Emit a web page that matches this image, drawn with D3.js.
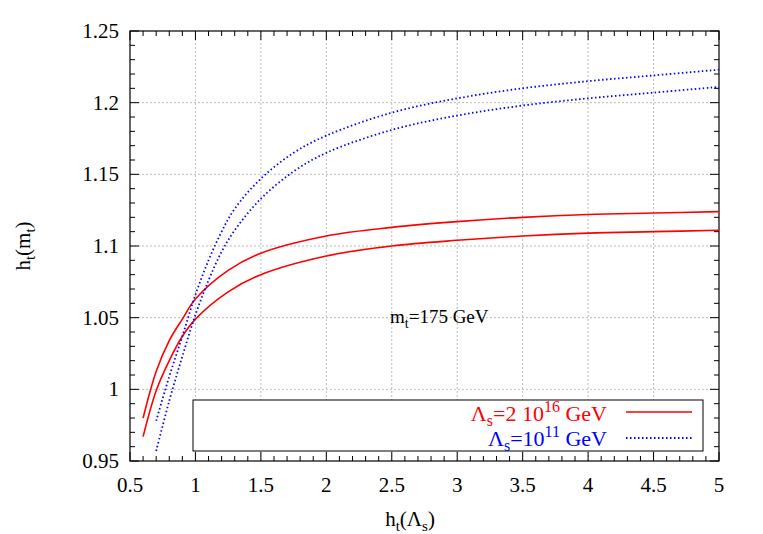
<!DOCTYPE html><html><head><script src="https://cdn.jsdelivr.net/npm/d3@7"></script>
<style>body{margin:0;background:#fff}text{font-family:"Liberation Serif","Times New Roman",serif}</style></head><body>
<script>
const xTicks=[0.5,1,1.5,2,2.5,3,3.5,4,4.5,5];
const yTicks=[0.95,1,1.05,1.1,1.15,1.2,1.25];
const redX=[0.6,0.7,0.8,0.9,1.0,1.25,1.5,2,2.5,3,3.5,4,4.5,5];
const redUpper=[0.980,1.0125,1.034,1.049,1.063,1.083,1.095,1.107,1.113,1.117,1.120,1.122,1.123,1.124];
const redLower=[0.967,0.999,1.020,1.037,1.049,1.068,1.080,1.093,1.100,1.104,1.107,1.109,1.110,1.111];
const blueX=[0.7,0.8,0.9,1.0,1.1,1.2,1.3,1.5,1.75,2,2.5,3,3.5,4,4.5,5];
const blueUpper=[0.978,1.009,1.037,1.066,1.090,1.110,1.126,1.147,1.165,1.177,1.193,1.203,1.210,1.215,1.219,1.223];
const blueLower=[0.957,0.992,1.023,1.052,1.076,1.096,1.111,1.133,1.152,1.165,1.181,1.191,1.198,1.203,1.207,1.211];
const W=763,H=534,L=130,R=719,T=31,B=461;
const svg=d3.select("body").append("svg").attr("width",W).attr("height",H);
const x=d3.scaleLinear().domain([0.5,5]).range([L,R]);
const y=d3.scaleLinear().domain([0.95,1.25]).range([B,T]);
const g=svg.append("g");
xTicks.slice(1,-1).forEach(v=>g.append("line").attr("x1",x(v)).attr("x2",x(v)).attr("y1",T).attr("y2",B).attr("stroke","#aaa").attr("stroke-dasharray","2,2").attr("stroke-width",0.8));
yTicks.slice(1,-1).forEach(v=>g.append("line").attr("x1",L).attr("x2",R).attr("y1",y(v)).attr("y2",y(v)).attr("stroke","#aaa").attr("stroke-dasharray","2,2").attr("stroke-width",0.8));
const xMinor=d3.range(0.5,5.001,0.1);
const yMinor=d3.range(0.95,1.2501,0.01);
xMinor.forEach(v=>{const big=xTicks.some(t=>Math.abs(t-v)<1e-6);const s=big?9:5;
 g.append("line").attr("x1",x(v)).attr("x2",x(v)).attr("y1",B).attr("y2",B-s).attr("stroke","#000");
 g.append("line").attr("x1",x(v)).attr("x2",x(v)).attr("y1",T).attr("y2",T+s).attr("stroke","#000");});
yMinor.forEach(v=>{const big=yTicks.some(t=>Math.abs(t-v)<1e-6);const s=big?9:5;
 g.append("line").attr("x1",L).attr("x2",L+s).attr("y1",y(v)).attr("y2",y(v)).attr("stroke","#000");
 g.append("line").attr("x1",R).attr("x2",R-s).attr("y1",y(v)).attr("y2",y(v)).attr("stroke","#000");});
xTicks.forEach(v=>g.append("text").attr("x",x(v)).attr("y",B+31).attr("text-anchor","middle").attr("font-size",21).text(v));
yTicks.forEach(v=>g.append("text").attr("x",L-11).attr("y",y(v)+7).attr("text-anchor","end").attr("font-size",21).text(v));
g.append("rect").attr("x",L).attr("y",T).attr("width",R-L).attr("height",B-T).attr("fill","none").attr("stroke","#000").attr("stroke-width",1.2);
const line=(xs)=>d3.line().x((d,i)=>x(xs[i])).y(d=>y(d)).curve(d3.curveCatmullRom);
[redUpper,redLower].forEach(a=>g.append("path").attr("d",line(redX)(a)).attr("fill","none").attr("stroke","#f00").attr("stroke-width",1.6));
[blueUpper,blueLower].forEach(a=>g.append("path").attr("d",line(blueX)(a)).attr("fill","none").attr("stroke","#00f").attr("stroke-width",1.8).attr("stroke-dasharray","1.5,2.5"));
g.append("rect").attr("x",193).attr("y",400).attr("width",510).attr("height",51).attr("fill","#fff").attr("stroke","#000");
const t1=g.append("text").attr("x",607).attr("y",421).attr("text-anchor","end").attr("font-size",22).attr("fill","#f00");
t1.append("tspan").text("Λ");t1.append("tspan").attr("font-size",16).attr("dy",5).text("s");
t1.append("tspan").attr("dy",-5).text("=2 10");t1.append("tspan").attr("font-size",16).attr("dy",-9).text("16");
t1.append("tspan").attr("dy",9).text(" GeV");
g.append("line").attr("x1",626).attr("x2",692).attr("y1",412).attr("y2",412).attr("stroke","#f00").attr("stroke-width",1.6);
const t2=g.append("text").attr("x",607).attr("y",446).attr("text-anchor","end").attr("font-size",22).attr("fill","#00f");
t2.append("tspan").text("Λ");t2.append("tspan").attr("font-size",16).attr("dy",5).text("s");
t2.append("tspan").attr("dy",-5).text("=10");t2.append("tspan").attr("font-size",16).attr("dy",-9).text("11");
t2.append("tspan").attr("dy",9).text(" GeV");
g.append("line").attr("x1",626).attr("x2",692).attr("y1",438).attr("y2",438).attr("stroke","#00f").attr("stroke-width",1.8).attr("stroke-dasharray","1.5,2.5");
const a=g.append("text").attr("x",390).attr("y",323).attr("font-size",19);
a.append("tspan").text("m");a.append("tspan").attr("font-size",14).attr("dy",5).text("t");a.append("tspan").attr("dy",-5).text("=175 GeV");
const xl=g.append("text").attr("x",410).attr("y",526).attr("text-anchor","middle").attr("font-size",21);
xl.append("tspan").text("h");xl.append("tspan").attr("font-size",15).attr("dy",5).text("t");xl.append("tspan").attr("dy",-5).text("(Λ");
xl.append("tspan").attr("font-size",15).attr("dy",5).text("s");xl.append("tspan").attr("dy",-5).text(")");
const yl=g.append("text").attr("transform","translate(30,246) rotate(-90)").attr("text-anchor","middle").attr("font-size",21);
yl.append("tspan").text("h");yl.append("tspan").attr("font-size",15).attr("dy",5).text("t");yl.append("tspan").attr("dy",-5).text("(m");
yl.append("tspan").attr("font-size",15).attr("dy",5).text("t");yl.append("tspan").attr("dy",-5).text(")");
</script></body></html>
